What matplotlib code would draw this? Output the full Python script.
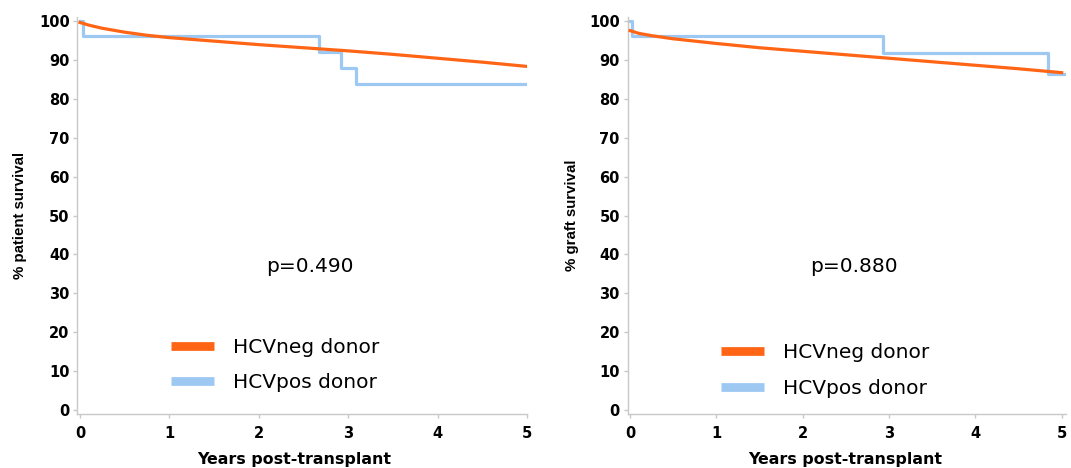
import matplotlib.pyplot as plt
import numpy as np

plt.rcParams['font.family'] = ['DejaVu Sans']

# HCV-negative donors: smooth KM estimate (years, % surviving)
neg_t = [0, 0.1, 0.25, 0.5, 0.75, 1, 1.5, 2, 2.5, 3, 3.5, 4, 4.5, 5]
neg_patient = [99.6, 98.9, 98.1, 97.1, 96.3, 95.7, 94.8, 93.9, 93.1, 92.3, 91.4, 90.4, 89.4, 88.3]
neg_graft = [97.5, 96.8, 96.2, 95.4, 94.8, 94.2, 93.1, 92.2, 91.3, 90.4, 89.5, 88.6, 87.7, 86.7]

# HCV-positive donors: step functions
pos_patient_t = [0, 0.03, 2.67, 2.92, 3.09, 5]
pos_patient = [100, 96.0, 92.0, 87.9, 83.8, 83.8]
pos_graft_t = [0, 0.02, 2.93, 4.84, 5.05]
pos_graft = [100, 96.2, 91.7, 86.4, 86.4]

W, H = 1071, 468
panels = [
    # ylabel, neg curve, pos steps, p text, p x, axes px span, xmax, legend anchor px, xlabel x
    ('% patient survival', neg_patient, pos_patient_t, pos_patient, 'p=0.490', 2.57,
     (77.3, 527), 5.0, (171, 365), 0.483),
    ('% graft survival', neg_graft, pos_graft_t, pos_graft, 'p=0.880', 2.59,
     (627.5, 1066), 5.05, (721, 370.5), 0.496),
]

orange = '#ff6515'
blue = '#9cc8f2'
grey = '#c8c8c8'

fig = plt.figure(figsize=(W / 100, H / 100), dpi=100)

for ylab, neg, pt, pv, ptxt, px, (x0, x1), xmax, (lx, ly), xlx in panels:
    ax = fig.add_axes([x0 / W, 1 - 414 / H, (x1 - x0) / W, (414 - 17) / H])
    l1, = ax.plot(neg_t, neg, color=orange, lw=2.3, label='HCVneg donor', zorder=3)
    l2, = ax.step(pt, pv, where='post', color=blue, lw=2.3, label='HCVpos donor', zorder=2)
    ax.set_xlim(-0.03, xmax)
    ax.set_ylim(-1, 101)
    ax.set_xticks(range(6))
    ax.set_yticks(range(0, 101, 10))
    for s in ['top', 'right']:
        ax.spines[s].set_visible(False)
    for s in ['left', 'bottom']:
        ax.spines[s].set_color(grey)
        ax.spines[s].set_linewidth(1.0)
    ax.tick_params(colors=grey, length=3, width=1, labelcolor='black', labelsize=10.5)
    ax.tick_params(axis='y', pad=2.5)
    ax.tick_params(axis='x', pad=6)
    for lab in ax.get_xticklabels() + ax.get_yticklabels():
        lab.set_fontweight('bold')
    ax.set_xlabel('Years post-transplant', fontsize=11.4, fontweight='bold')
    ax.xaxis.set_label_coords(xlx, -0.096)
    ax.set_ylabel(ylab, fontsize=10.8, fontweight='bold', family='Liberation Sans')
    ax.yaxis.set_label_coords(-0.127, 0.5)
    ax.yaxis.label.set_va('center')
    ax.text(px, 36.8, ptxt, fontsize=14.5, ha='center', va='center')
    leg = fig.legend(handles=[l1, l2], loc='center left', bbox_to_anchor=(lx / W, 1 - ly / H),
                     frameon=False, fontsize=14.5, handlelength=2.15, handletextpad=0.95,
                     labelspacing=0.82, borderpad=0, borderaxespad=0)
    for h in leg.get_lines():
        h.set_linewidth(6.3)
        h.set_solid_capstyle('butt')

fig.savefig('out.png', dpi=100)
